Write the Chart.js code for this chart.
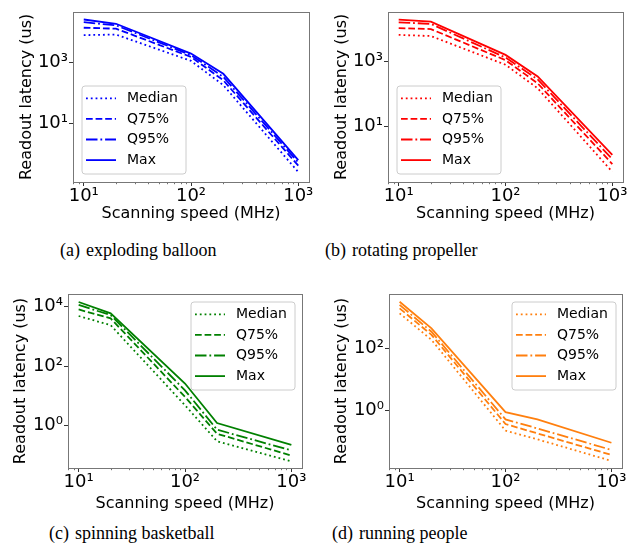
<!DOCTYPE html>
<html><head><meta charset="utf-8">
<script src="https://cdn.jsdelivr.net/npm/chart.js@4.4.0/dist/chart.umd.min.js"></script>
<style>
html,body{margin:0;padding:0;background:#fff;}
body{width:629px;height:552px;position:relative;overflow:hidden;}
canvas{position:absolute;}
.cap{position:absolute;font-family:"Liberation Serif","Times New Roman",serif;font-size:18px;line-height:18px;color:#000;white-space:pre;}
.gap{display:inline-block;width:6px;}
</style></head><body>
<canvas id="ca" width="314" height="230" style="left:0px;top:0px;width:314px;height:230px"></canvas>
<canvas id="cb" width="315" height="230" style="left:314px;top:0px;width:315px;height:230px"></canvas>
<canvas id="cc" width="314" height="246" style="left:0px;top:276px;width:314px;height:246px"></canvas>
<canvas id="cd" width="315" height="246" style="left:314px;top:276px;width:315px;height:246px"></canvas>
<div class="cap" style="left:60px;top:240.7px">(a)<span class="gap"></span>exploding balloon</div>
<div class="cap" style="left:325px;top:240.7px">(b)<span class="gap"></span>rotating propeller</div>
<div class="cap" style="left:49px;top:524px">(c)<span class="gap"></span>spinning basketball</div>
<div class="cap" style="left:332px;top:524px">(d)<span class="gap"></span>running people</div>
<script>
// ---- data ----
const speedsMHz = [10, 20, 100, 200, 1000];
const seriesNames = ['Median', 'Q75%', 'Q95%', 'Max'];
const xTickValues = [10, 100, 1000];

const balloonMedian = [7600, 7900, 1100, 178, 0.263];
const balloonQ75    = [13200, 12300, 1480, 257, 0.427];
const balloonQ95    = [20000, 15800, 1700, 331, 0.537];
const balloonMax    = [24500, 17800, 1900, 417, 0.646];
const balloonYTicks = [10, 1000];

const propellerMedian = [6500, 6000, 794, 151, 0.417];
const propellerQ75    = [10500, 9800, 1096, 214, 0.724];
const propellerQ95    = [15800, 14100, 1318, 282, 1.02];
const propellerMax    = [19000, 16600, 1585, 347, 1.38];
const propellerYTicks = [10, 1000];

const basketballMedian = [4900, 2400, 4.9, 0.302, 0.063];
const basketballQ75    = [8130, 4070, 9.33, 0.537, 0.1];
const basketballQ95    = [11500, 5250, 15.5, 0.741, 0.148];
const basketballMax    = [14500, 6030, 26.3, 1.23, 0.229];
const basketballYTicks = [1, 100, 10000];

const peopleMedian = [1318, 186, 0.229, 0.120, 0.0245];
const peopleQ75    = [1905, 269, 0.372, 0.186, 0.038];
const peopleQ95    = [2455, 339, 0.525, 0.269, 0.055];
const peopleMax    = [3090, 437, 0.891, 0.525, 0.0933];
const peopleYTicks = [1, 100];

// ---- styling ----
Chart.defaults.font.family = '"DejaVu Sans", sans-serif';
Chart.defaults.color = '#000';
const DASHES = [[1.8, 3.0], [6.7, 2.9], [11.5, 2.9, 1.8, 2.9], []];
const SUP = {'-':'⁻','0':'⁰','1':'¹','2':'²','3':'³','4':'⁴','5':'⁵','6':'⁶','7':'⁷','8':'⁸','9':'⁹'};
function pow10Label(v){
  const e = String(Math.round(Math.log10(v)));
  return '10' + e.split('').map(c=>SUP[c]).join('');
}

const framePlugin = {
  id: 'frame',
  afterDraw(chart){
    const {ctx, chartArea: a} = chart;
    ctx.save();
    const xs = chart.scales.x;
    ctx.strokeStyle = '#333'; ctx.lineWidth = 0.7;
    for (let d = 1; d <= 1000; d *= 10){
      for (let m = 2; m <= 9; m++){
        const v = m*d;
        if (v < xs.min || v > xs.max) continue;
        const px = Math.round(xs.getPixelForValue(v)) + 0.5;
        ctx.beginPath(); ctx.moveTo(px, a.bottom); ctx.lineTo(px, a.bottom + 2.2); ctx.stroke();
      }
    }
    ctx.strokeStyle = '#777'; ctx.lineWidth = 1;
    ctx.strokeRect(Math.round(a.left)+0.5, Math.round(a.top)+0.5, Math.round(a.right-a.left), Math.round(a.bottom-a.top));
    ctx.restore();
  }
};

const insideLegend = {
  id: 'insideLegend',
  afterDraw(chart, args, opts){
    const ctx = chart.ctx;
    const x = opts.x, y = opts.y, w = 104, h = 88, r = 3;
    ctx.save();
    ctx.beginPath();
    ctx.moveTo(x+r, y); ctx.lineTo(x+w-r, y); ctx.arcTo(x+w, y, x+w, y+r, r);
    ctx.lineTo(x+w, y+h-r); ctx.arcTo(x+w, y+h, x+w-r, y+h, r);
    ctx.lineTo(x+r, y+h); ctx.arcTo(x, y+h, x, y+h-r, r);
    ctx.lineTo(x, y+r); ctx.arcTo(x, y, x+r, y, r); ctx.closePath();
    ctx.fillStyle = 'rgba(255,255,255,0.8)'; ctx.fill();
    ctx.strokeStyle = '#cccccc'; ctx.lineWidth = 1; ctx.stroke();
    ctx.font = '14px "DejaVu Sans", sans-serif';
    ctx.textBaseline = 'middle'; ctx.textAlign = 'left';
    chart.data.datasets.forEach((ds, i) => {
      const cy = y + 12.3 + i*20.6;
      ctx.strokeStyle = ds.borderColor; ctx.lineWidth = ds.borderWidth;
      ctx.lineCap = 'butt';
      ctx.setLineDash(ds.borderDash || []);
      ctx.beginPath(); ctx.moveTo(x+4, cy); ctx.lineTo(x+34, cy); ctx.stroke();
      ctx.setLineDash([]);
      ctx.fillStyle = '#000';
      ctx.fillText(ds.label, x+45, cy);
    });
    ctx.restore();
  }
};

function makeChart(id, color, seriesList, yTicks, yMin, yMax, lay){
  const datasets = seriesList.map((vals, i) => ({
    label: seriesNames[i],
    data: speedsMHz.map((s, j) => ({x: s, y: vals[j]})),
    borderColor: color, backgroundColor: color,
    borderWidth: 1.8, borderDash: DASHES[i],
    pointRadius: 0, tension: 0, fill: false
  }));
  return new Chart(document.getElementById(id), {
    type: 'line',
    data: {datasets},
    options: {
      responsive: false, animation: false, events: [],
      layout: {padding: {left: lay.pl, right: lay.pr, top: lay.pt, bottom: lay.pb}},
      plugins: {legend: {display: false}, tooltip: {enabled: false},
        insideLegend: {x: lay.lx, y: lay.ly}},
      scales: {
        x: {
          type: 'logarithmic', min: 7.94, max: 1259,
          afterBuildTicks: s => { s.ticks = xTickValues.map(v => ({value: v})); },
          afterFit: s => { s.height = lay.xh; },
          ticks: {callback: v => pow10Label(v), font: {size: 18}, padding: 0, maxRotation: 0, autoSkip: false},
          grid: {drawOnChartArea: false, drawTicks: true, tickLength: 4, tickColor: '#333'},
          border: {display: false},
          title: {display: true, text: 'Scanning speed (MHz)', font: {size: 16}, padding: {top: 0, bottom: 0}}
        },
        y: {
          type: 'logarithmic', min: yMin, max: yMax,
          afterBuildTicks: s => { s.ticks = yTicks.map(v => ({value: v})); },
          afterFit: s => { s.width = lay.yw; },
          ticks: {callback: v => pow10Label(v), font: {size: 18}, padding: 1, autoSkip: false},
          grid: {drawOnChartArea: false, drawTicks: true, tickLength: 4, tickColor: '#333'},
          border: {display: false},
          title: {display: true, text: 'Readout latency (us)', font: {size: 16}, padding: {top: 0, bottom: 0}}
        }
      }
    },
    plugins: [framePlugin, insideLegend]
  });
}

makeChart('ca', '#0000ff', [balloonMedian, balloonQ75, balloonQ95, balloonMax], balloonYTicks, 0.1245, 43650,
  {pl: 17.4, pr: 5, pt: 6, pb: 6.4, yw: 55.6, xh: 41.6, lx: 82, ly: 86});
makeChart('cb', '#ff0000', [propellerMedian, propellerQ75, propellerQ95, propellerMax], propellerYTicks, 0.204, 33100,
  {pl: 18.4, pr: 6, pt: 6, pb: 6.4, yw: 55.6, xh: 41.6, lx: 83, ly: 86});
makeChart('cc', '#008000', [basketballMedian, basketballQ75, basketballQ95, basketballMax], basketballYTicks, 0.038, 26900,
  {pl: 11.4, pr: 12, pt: 18, pb: 8.4, yw: 56.6, xh: 45.6, lx: 191, ly: 26});
makeChart('cd', '#ff7f0e', [peopleMedian, peopleQ75, peopleQ95, peopleMax], peopleYTicks, 0.01445, 5495,
  {pl: 18.4, pr: 7, pt: 18, pb: 8.4, yw: 56.6, xh: 45.6, lx: 198, ly: 26});
</script>
</body></html>
